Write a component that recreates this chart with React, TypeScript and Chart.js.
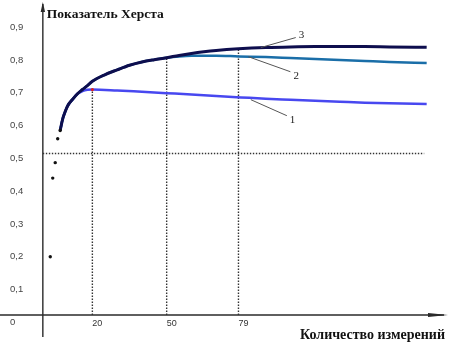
import React, { useEffect, useRef } from "react";
import { Chart, registerables } from "chart.js";
Chart.register(...registerables);

// ---- data ----
const startN = [3, 4, 5, 6, 7];
const startH = [0.2, 0.44, 0.487, 0.56, 0.585];

const curve3N = [7, 8, 9, 10, 12, 14, 16, 18, 20, 25, 30, 35, 40, 45, 50, 55, 60, 65, 70, 79, 90, 100, 110, 120, 130, 140, 155];
const curve3H = [0.585, 0.62, 0.642, 0.66, 0.68, 0.697, 0.71, 0.722, 0.735, 0.755, 0.77, 0.784, 0.794, 0.801, 0.807, 0.814, 0.82, 0.825, 0.829, 0.834, 0.838, 0.84, 0.841, 0.841, 0.841, 0.84, 0.839];

const curve2N = [7, 8, 9, 10, 12, 14, 16, 18, 20, 25, 30, 35, 40, 45, 50, 55, 60, 70, 79, 90, 100, 110, 120, 130, 140, 155];
const curve2H = [0.585, 0.62, 0.642, 0.66, 0.68, 0.697, 0.71, 0.722, 0.735, 0.755, 0.77, 0.784, 0.794, 0.801, 0.807, 0.811, 0.813, 0.813, 0.811, 0.809, 0.806, 0.803, 0.8, 0.797, 0.794, 0.791];

const curve1N = [7, 8, 9, 10, 12, 14, 16, 18, 20, 30, 40, 50, 60, 70, 80, 90, 100, 110, 120, 130, 140, 155];
const curve1H = [0.585, 0.62, 0.642, 0.66, 0.68, 0.697, 0.705, 0.709, 0.71, 0.707, 0.703, 0.699, 0.695, 0.69, 0.686, 0.682, 0.679, 0.676, 0.673, 0.67, 0.668, 0.666];

const markN = [20];
const markH = [0.71];

const guideN = [20, 50, 79];
const guideH = [0.71, 0.807, 0.834];
const levelH = 0.515;
const levelFromN = 0;
const levelToN = 154;
const axisBaseH = 0.0225;

const xTicks = [20, 50, 79];
const yTicks = [0, 0.1, 0.2, 0.3, 0.4, 0.5, 0.6, 0.7, 0.8, 0.9];

const curveLabels = ["1", "2", "3"];
const labelAnchorN = [84, 83, 88];
const labelAnchorH = [0.679, 0.81, 0.838];

const yTitle = "Показатель Херста";
const xTitle = "Количество измерений";

const pts = (ns: number[], hs: number[]) => ns.map((n, i) => ({ x: n, y: hs[i] }));

const axesPlugin = {
  id: "axesPlugin",
  beforeDatasetsDraw(chart: any) {
    const { ctx, scales } = chart;
    const x0 = scales.x.getPixelForValue(0);
    const yb = scales.y.getPixelForValue(axisBaseH);
    ctx.save();
    ctx.strokeStyle = "#2a2a2a";
    ctx.fillStyle = "#2a2a2a";
    ctx.lineWidth = 1.4;
    // y axis
    ctx.beginPath();
    ctx.moveTo(x0, 337);
    ctx.lineTo(x0, 4);
    ctx.stroke();
    ctx.beginPath();
    ctx.moveTo(x0, 2);
    ctx.lineTo(x0 - 2.2, 12);
    ctx.lineTo(x0 + 2.2, 12);
    ctx.closePath();
    ctx.fill();
    // x axis
    ctx.beginPath();
    ctx.moveTo(0, yb);
    ctx.lineTo(444, yb);
    ctx.stroke();
    ctx.beginPath();
    ctx.moveTo(448, yb);
    ctx.lineTo(428, yb - 2);
    ctx.lineTo(428, yb + 2);
    ctx.closePath();
    ctx.fill();
    ctx.restore();
  },
  afterDraw(chart: any) {
    const { ctx, scales } = chart;
    ctx.save();
    // y title
    ctx.fillStyle = "#111";
    ctx.font = "bold 13.5px 'Liberation Serif'";
    ctx.textAlign = "left";
    ctx.textBaseline = "middle";
    ctx.fillText(yTitle, scales.x.getPixelForValue(0) + 4, 15);
    // curve labels with leaders
    const offs = [
      [36, 16],
      [42, 15],
      [35, -10],
    ];
    ctx.strokeStyle = "#555";
    ctx.lineWidth = 1;
    ctx.font = "11px 'Liberation Serif'";
    curveLabels.forEach((lab, i) => {
      const ax = scales.x.getPixelForValue(labelAnchorN[i]);
      const ay = scales.y.getPixelForValue(labelAnchorH[i]);
      const [dx, dy] = offs[i];
      ctx.beginPath();
      ctx.moveTo(ax, ay);
      ctx.lineTo(ax + dx, ay + dy);
      ctx.stroke();
      ctx.fillStyle = "#222";
      ctx.fillText(lab, ax + dx + 3, ay + dy + (dy > 0 ? 4 : -2));
    });
    ctx.restore();
  },
};

export default function App() {
  const ref = useRef<HTMLCanvasElement>(null);
  useEffect(() => {
    if (!ref.current) return;
    const dotted = {
      borderColor: "#333",
      borderWidth: 1.4,
      borderDash: [1.4, 1.6],
      pointRadius: 0,
      fill: false,
    };
    const guideSets = guideN.map((n, i) => ({
      data: [
        { x: n, y: axisBaseH },
        { x: n, y: guideH[i] },
      ],
      ...dotted,
    }));
    const chart = new Chart(ref.current, {
      type: "line",
      data: {
        datasets: [
          {
            data: pts(markN, markH),
            showLine: false,
            pointRadius: 1.6,
            pointBackgroundColor: "#e02020",
            pointBorderWidth: 0,
          },
          {
            data: pts(startN, startH),
            showLine: false,
            pointRadius: 1.7,
            pointBackgroundColor: "#111",
            pointBorderWidth: 0,
          },
          {
            data: pts(curve3N, curve3H),
            borderColor: "#0e0e4e",
            borderWidth: 3,
            pointRadius: 0,
            cubicInterpolationMode: "monotone",
          },
          {
            data: pts(curve2N, curve2H),
            borderColor: "#1a6ea8",
            borderWidth: 2.5,
            pointRadius: 0,
            cubicInterpolationMode: "monotone",
          },
          {
            data: pts(curve1N, curve1H),
            borderColor: "#4848f0",
            borderWidth: 2.5,
            pointRadius: 0,
            cubicInterpolationMode: "monotone",
          },
          ...guideSets,
          {
            data: [
              { x: levelFromN, y: levelH },
              { x: levelToN, y: levelH },
            ],
            ...dotted,
          },
        ] as any,
      },
      options: {
        animation: false,
        responsive: false,
        layout: { padding: { left: 10, right: 0, top: 0, bottom: 0 } },
        plugins: {
          legend: { display: false },
          tooltip: { enabled: false },
        },
        scales: {
          x: {
            type: "linear",
            min: -6.8,
            max: 162.4,
            grid: { display: false, drawTicks: false },
            border: { display: false },
            afterFit: (s: any) => {
              s.height = 27;
            },
            afterBuildTicks: (s: any) => {
              s.ticks = xTicks.map((v) => ({ value: v }));
            },
            ticks: {
              align: "start",
              maxRotation: 0,
              minRotation: 0,
              autoSkip: false,
              padding: 3,
              color: "#333",
              font: { family: "'Liberation Sans'", size: 9 },
              callback: (v: any) => String(v),
            },
            title: {
              display: true,
              text: xTitle,
              align: "end",
              color: "#111",
              padding: { top: 0, bottom: -2 },
              font: { family: "'Liberation Serif'", size: 14, weight: "bold" },
            },
          },
          y: {
            min: axisBaseH,
            max: 0.9656,
            grid: { display: false, drawTicks: false },
            border: { display: false },
            afterFit: (s: any) => {
              s.width = 16;
            },
            afterBuildTicks: (s: any) => {
              s.ticks = yTicks.map((v) => ({ value: v }));
            },
            ticks: {
              crossAlign: "far",
              padding: 0,
              color: "#444",
              font: { family: "'Liberation Sans'", size: 9.5 },
              callback: (v: any) => (v === 0 ? "0" : Number(v).toFixed(1).replace(".", ",")),
            },
          },
        },
      } as any,
      plugins: [axesPlugin],
    });
    return () => chart.destroy();
  }, []);
  return (
    <div style={{ position: "fixed", left: 0, top: 0, width: 449, height: 342, background: "#fff" }}>
      <canvas ref={ref} width={449} height={342} style={{ display: "block" }} />
    </div>
  );
}
